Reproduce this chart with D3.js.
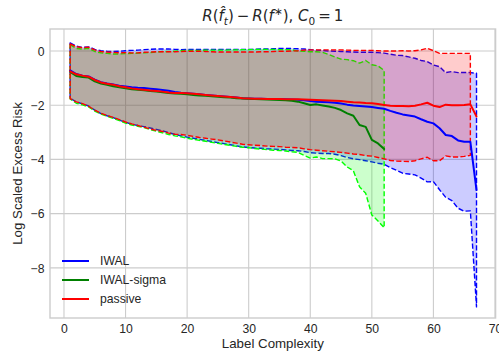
<!DOCTYPE html>
<html>
<head>
<meta charset="utf-8">
<script src="https://cdn.jsdelivr.net/npm/d3@7/dist/d3.min.js"></script>
<style>
	body { margin: 0; background: #fff; }
	svg text { font-family: "Liberation Sans", Arial, sans-serif; fill: #262626; }
</style>
</head>
<body>
<svg id="chart" width="499" height="358"></svg>
<script>

// log scaled excess risk per label count (index 0 -> 1 label), mean and spread
var iwalMean = [
	-0.72, -0.85, -0.91, -0.94, -1.06, -1.15, -1.20, -1.24, -1.28, -1.31,
	-1.34, -1.36, -1.37, -1.39, -1.41, -1.44, -1.47, -1.51, -1.54, -1.56,
	-1.58, -1.60, -1.62, -1.64, -1.66, -1.68, -1.70, -1.72, -1.74, -1.75,
	-1.76, -1.76, -1.77, -1.77, -1.77, -1.78, -1.79, -1.80, -1.82, -1.85,
	-1.87, -1.88, -1.89, -1.91, -1.94, -1.98, -2.01, -2.03, -2.05, -2.07,
	-2.10, -2.13, -2.21, -2.28, -2.34, -2.38, -2.42, -2.52, -2.61, -2.67,
	-2.85, -3.10, -3.14, -3.30, -3.35, -3.35, -5.13
];
var iwalSd = [
	1.02, 1.03, 1.04, 1.09, 1.12, 1.16, 1.19, 1.22, 1.27, 1.32,
	1.36, 1.39, 1.42, 1.45, 1.48, 1.51, 1.54, 1.57, 1.59, 1.62,
	1.64, 1.66, 1.68, 1.70, 1.72, 1.74, 1.76, 1.78, 1.80, 1.81,
	1.82, 1.83, 1.84, 1.85, 1.86, 1.87, 1.88, 1.88, 1.89, 1.90,
	1.90, 1.90, 1.89, 1.90, 1.92, 1.95, 1.97, 1.98, 2.00, 2.02,
	2.04, 2.05, 2.09, 2.12, 2.17, 2.16, 2.15, 2.17, 2.22, 2.15,
	2.27, 2.30, 2.38, 2.50, 2.56, 2.55, 4.31
];

var sigmaMean = [
	-0.77, -0.92, -0.96, -0.98, -1.12, -1.20, -1.25, -1.30, -1.34, -1.38,
	-1.41, -1.43, -1.45, -1.48, -1.50, -1.52, -1.55, -1.57, -1.58, -1.60,
	-1.62, -1.64, -1.65, -1.67, -1.69, -1.71, -1.72, -1.74, -1.75, -1.76,
	-1.77, -1.78, -1.79, -1.80, -1.81, -1.82, -1.84, -1.87, -1.93, -1.99,
	-1.97, -2.01, -2.05, -2.10, -2.18, -2.30, -2.39, -2.73, -2.80, -3.28,
	-3.41, -3.62
];
var sigmaSd = [
	1.00, 1.01, 1.03, 1.08, 1.10, 1.13, 1.16, 1.19, 1.23, 1.28,
	1.32, 1.35, 1.38, 1.42, 1.46, 1.50, 1.53, 1.56, 1.59, 1.62,
	1.64, 1.66, 1.68, 1.70, 1.72, 1.74, 1.76, 1.78, 1.80, 1.81,
	1.83, 1.84, 1.85, 1.86, 1.86, 1.87, 1.88, 1.87, 1.92, 1.96,
	1.94, 1.96, 1.92, 1.88, 1.88, 1.98, 2.03, 2.28, 2.45, 2.77,
	2.86, 2.90
];

var passiveMean = [
	-0.75, -0.86, -0.91, -0.95, -1.07, -1.16, -1.21, -1.25, -1.30, -1.34,
	-1.38, -1.41, -1.43, -1.46, -1.48, -1.50, -1.53, -1.55, -1.55, -1.56,
	-1.58, -1.60, -1.62, -1.64, -1.66, -1.68, -1.70, -1.72, -1.74, -1.75,
	-1.76, -1.76, -1.77, -1.77, -1.77, -1.78, -1.78, -1.78, -1.79, -1.80,
	-1.81, -1.82, -1.83, -1.84, -1.85, -1.87, -1.89, -1.90, -1.92, -1.93,
	-1.96, -1.99, -2.02, -2.03, -2.03, -2.04, -2.02, -1.97, -1.91, -2.02,
	-2.07, -1.98, -2.00, -2.00, -1.99, -1.97, -2.42
];
// last point comes from a single run, so no spread there
var passiveSd = [
	1.01, 1.02, 1.03, 1.09, 1.11, 1.14, 1.17, 1.20, 1.23, 1.28,
	1.31, 1.34, 1.38, 1.42, 1.45, 1.47, 1.50, 1.52, 1.53, 1.55,
	1.57, 1.59, 1.60, 1.61, 1.62, 1.64, 1.66, 1.68, 1.70, 1.71,
	1.72, 1.73, 1.74, 1.75, 1.76, 1.77, 1.78, 1.79, 1.82, 1.84,
	1.85, 1.86, 1.87, 1.88, 1.89, 1.90, 1.91, 1.92, 1.94, 1.95,
	1.97, 1.99, 2.02, 2.03, 2.04, 2.04, 2.03, 2.01, 2.01, 2.03,
	1.98, 1.89, 1.91, 1.91, 1.90, 1.88, null
];

var seriesNames = ["IWAL", "IWAL-sigma", "passive"];
var xTicks = [0, 10, 20, 30, 40, 50, 60, 70];
var yTicks = [0, -2, -4, -6, -8];

var series = [
	{ name: seriesNames[0], mean: iwalMean, sd: iwalSd, line: "#0000ff", band: "#0000ff" },
	{ name: seriesNames[1], mean: sigmaMean, sd: sigmaSd, line: "#008000", band: "#00ff00" },
	{ name: seriesNames[2], mean: passiveMean, sd: passiveSd, line: "#ff0000", band: "#ff0000" }
];

var svg = d3.select("#chart"),
	box = { left: 50, right: 495.6, top: 29, bottom: 318 };

var x = d3.scaleLinear().domain([-2.27, 70.1]).range([box.left, box.right]);
var y = d3.scaleLinear().domain([-9.85, 0.81]).range([box.bottom, box.top]);

// grid
var grid = svg.append("g");
grid.selectAll(".gx").data(xTicks).enter().append("line")
	.attr("x1", function(d) { return x(d); }).attr("x2", function(d) { return x(d); })
	.attr("y1", box.top).attr("y2", box.bottom)
	.attr("stroke", "#cccccc").attr("stroke-width", 1.1);
grid.selectAll(".gy").data(yTicks).enter().append("line")
	.attr("y1", function(d) { return y(d); }).attr("y2", function(d) { return y(d); })
	.attr("x1", box.left).attr("x2", box.right)
	.attr("stroke", "#cccccc").attr("stroke-width", 1.1);

// axes, seaborn whitegrid style: no tick marks, no domain line
var fmt = function(d) { return d < 0 ? "\u2212" + Math.abs(d) : String(d); };

var xAxis = svg.append("g")
	.attr("transform", "translate(0," + box.bottom + ")")
	.call(d3.axisBottom(x).tickValues(xTicks).tickSize(0).tickPadding(14.5).tickFormat(fmt));
var yAxis = svg.append("g")
	.attr("transform", "translate(" + box.left + ",0)")
	.call(d3.axisLeft(y).tickValues(yTicks).tickSize(0).tickPadding(5.5).tickFormat(fmt));
[xAxis, yAxis].forEach(function(g) {
	g.select(".domain").remove();
	g.selectAll("text").attr("font-size", "12.2px").attr("fill", "#262626")
		.attr("font-family", "Liberation Sans, Arial, sans-serif");
});
yAxis.selectAll("text").attr("dy", "0.35em");
xAxis.selectAll("text").attr("dy", "0");

// bands
var pts = function(s) {
	return s.mean.map(function(m, i) { return { n: i + 1, m: m, sd: s.sd[i] }; });
};

var area = d3.area()
	.x(function(d) { return x(d.n); })
	.y0(function(d) { return y(d.m - d.sd); })
	.y1(function(d) { return y(d.m + d.sd); });

var line = d3.line()
	.x(function(d) { return x(d.n); })
	.y(function(d) { return y(d.m); });

var plot = svg.append("g");

series.forEach(function(s) {
	var withSd = pts(s).filter(function(d) { return d.sd != null; });
	plot.append("path")
		.attr("d", area(withSd))
		.attr("fill", s.band).attr("fill-opacity", 0.2)
		.attr("stroke", s.band).attr("stroke-width", 1.4)
		.attr("stroke-dasharray", "5.2,2.3")
		.attr("stroke-linejoin", "round");
});

series.forEach(function(s) {
	plot.append("path")
		.attr("d", line(pts(s)))
		.attr("fill", "none")
		.attr("stroke", s.line).attr("stroke-width", 2)
		.attr("stroke-linejoin", "round").attr("stroke-linecap", "round");
});

// frame
svg.append("rect")
	.attr("x", box.left).attr("y", box.top)
	.attr("width", box.right - box.left).attr("height", box.bottom - box.top)
	.attr("fill", "none").attr("stroke", "#cccccc").attr("stroke-width", 1.4);

// legend
var legend = svg.append("g").selectAll("g").data(series).enter().append("g")
	.attr("transform", function(d, i) { return "translate(62," + (261 + i * 19) + ")"; });
legend.append("line")
	.attr("x1", 0).attr("x2", 27)
	.attr("stroke", function(d) { return d.line; }).attr("stroke-width", 2);
legend.append("text")
	.attr("x", 38).attr("y", 4.4)
	.attr("font-size", "12.2px")
	.text(function(d) { return d.name; });

// axis labels
svg.append("text")
	.attr("x", (box.left + box.right) / 2).attr("y", 348)
	.attr("text-anchor", "middle").attr("font-size", "13.3px")
	.text("Label Complexity");
svg.append("text")
	.attr("transform", "translate(22," + (box.top + box.bottom) / 2 + ") rotate(-90)")
	.attr("text-anchor", "middle").attr("font-size", "13.3px")
	.text("Log Scaled Excess Risk");

// title, written out like mathtext
var title = svg.append("text")
	.attr("x", (box.left + box.right) / 2).attr("y", 21)
	.attr("text-anchor", "middle")
	.style("font-family", "'DejaVu Sans', sans-serif")
	.attr("font-size", "15px");
var parts = [
	["R", "italic"], ["("], ["f\u0302", "italic"], ["t", "italic", "sub"], [")", null, "back"],
	["\u2009\u2212\u2009"], ["R", "italic"], ["("], ["f", "italic"], ["\u2217", null, "sup"], [")", null, "backsup"],
	[", "], ["C", "italic"], ["0", null, "sub"], ["\u2009=\u20091", null, "back"]
];
parts.forEach(function(p) {
	var t = title.append("tspan").text(p[0]);
	if (p[1] === "italic") t.attr("font-style", "italic");
	if (p[2] === "sub") t.attr("dy", 3.5).attr("font-size", "10.5px");
	if (p[2] === "back") t.attr("dy", -3.5);
	if (p[2] === "sup") t.attr("dy", -6).attr("font-size", "10.5px");
	if (p[2] === "backsup") t.attr("dy", 6);
});

</script>
</body>
</html>
